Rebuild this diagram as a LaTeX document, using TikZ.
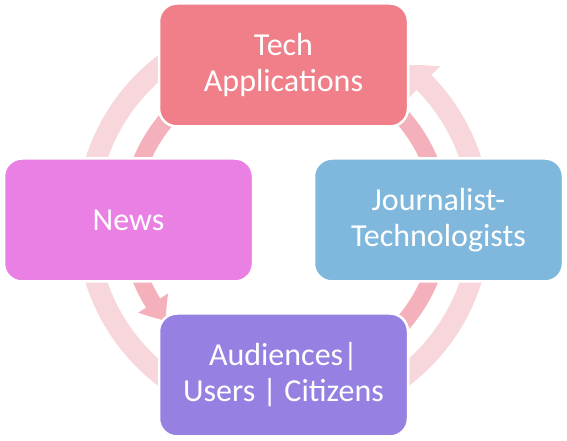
\documentclass[tikz,border=0pt]{standalone}
\usepackage{fontspec}
\setmainfont{Carlito}
\usepackage{tikz}
\usetikzlibrary{arrows.meta}
\usetikzlibrary{bending}
\definecolor{techred}{RGB}{240,127,137}
\definecolor{newspink}{RGB}{234,128,227}
\definecolor{jtblue}{RGB}{128,183,220}
\definecolor{audpurple}{RGB}{150,129,226}
\definecolor{ringpale}{RGB}{248,215,220}
\definecolor{ringrose}{RGB}{245,177,187}

\begin{document}
\begin{tikzpicture}[x=1pt, y=1pt,
  box/.style={draw=white, line width=2.5pt, rounded corners=18pt,
    minimum width=249pt, minimum height=123pt, align=center,
    text=white, font=\fontsize{32}{36}\selectfont},
  outerring/.style={ringpale, line width=21pt, -{Triangle[width=44pt,length=26pt,bend]}},
  innerring/.style={ringrose, line width=17pt, -{Triangle[width=34pt,length=22pt,bend]}},
]
\useasboundingbox (0,0) rectangle (567,441);
\coordinate (c1) at (283.5,220.5);
\coordinate (c2) at (285.5,220.5);
% cycle arrows behind the boxes
\draw[outerring] ([shift={(95:197pt)}]c1) arc[start angle=95, end angle=412, radius=197pt];
\draw[innerring] ([shift={(260:156pt)}]c2) arc[start angle=260, end angle=580, radius=156pt];
% boxes
\node[box, fill=techred] (tech) at (283.5,376) {Tech\\Applications};
\node[box, fill=newspink] (news) at (128.5,221) {News};
\node[box, fill=jtblue] (jt) at (438.5,221) {Journalist-\\Technologists};
\node[box, fill=audpurple] (aud) at (283.5,66) {Audiences|\\Users | Citizens};
\end{tikzpicture}
\end{document}
